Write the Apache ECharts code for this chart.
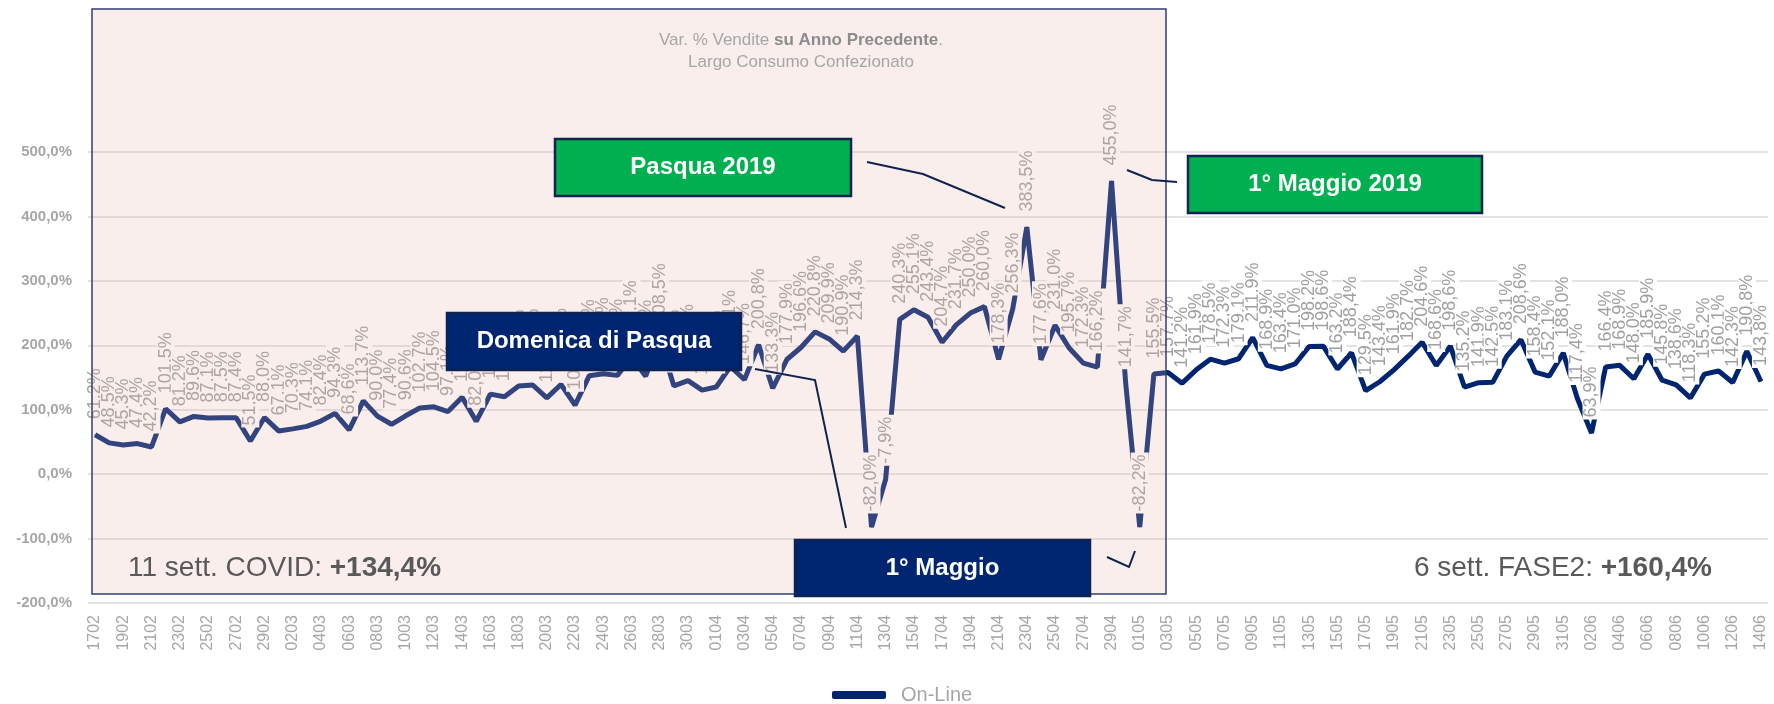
<!DOCTYPE html>
<html><head><meta charset="utf-8">
<script src="https://cdn.jsdelivr.net/npm/echarts@6/dist/echarts.min.js"></script>
<style>html,body{margin:0;padding:0;background:#fff}#c{width:1774px;height:704px}</style>
</head><body><div id="c"></div>
<script>
const categories = [
'1702','1802','1902','2002','2102','2202','2302','2402','2502','2602','2702','2802','2902',
'0103','0203','0303','0403','0503','0603','0703','0803','0903','1003','1103','1203','1303','1403','1503','1603','1703','1803','1903','2003','2103','2203','2303','2403','2503','2603','2703','2803','2903','3003','3103',
'0104','0204','0304','0404','0504','0604','0704','0804','0904','1004','1104','1204','1304','1404','1504','1604','1704','1804','1904','2004','2104','2204','2304','2404','2504','2604','2704','2804','2904','3004',
'0105','0205','0305','0405','0505','0605','0705','0805','0905','1005','1105','1205','1305','1405','1505','1605','1705','1805','1905','2005','2105','2205','2305','2405','2505','2605','2705','2805','2905','3005','3105',
'0106','0206','0306','0406','0506','0606','0706','0806','0906','1006','1106','1206','1306','1406'];

const onlineValues = [
61.2,48.5,45.3,47.4,42.2,101.5,81.2,89.6,87.1,87.5,87.4,51.5,88.0,
67.1,70.3,74.1,82.4,94.3,68.6,113.7,90.0,77.4,90.6,102.7,104.5,97.1,119.4,82.0,124.2,120.2,136.7,138.4,118.3,139.2,107.0,152.6,155.9,153.3,182.1,152.0,208.5,136.9,145.2,130.4,
135.3,167.1,146.7,200.8,133.3,177.9,196.6,220.8,209.9,190.9,214.3,-82.0,-7.9,240.3,255.1,243.4,204.7,231.7,250.0,260.0,178.3,256.3,383.5,177.6,231.0,195.7,172.3,166.2,455.0,141.7,
-82.2,155.5,157.7,141.2,161.9,178.5,172.3,179.1,211.9,168.9,163.4,171.0,198.2,198.6,163.2,188.4,129.5,143.4,161.9,182.7,204.6,168.6,198.6,135.2,141.9,142.5,183.1,208.6,158.4,152.1,188.0,
117.4,63.9,166.4,168.9,148.0,185.9,145.8,138.6,118.3,155.2,160.1,142.3,190.8,143.8];

const seriesName = 'On-Line';
const yMin = -200, yMax = 500, yStep = 100;
const titleLine1 = ['Var. % Vendite ', 'su Anno Precedente', '.'];
const titleLine2 = 'Largo Consumo Confezionato';
const covidNote = ['11 sett. COVID: ', '+134,4%'];
const fase2Note = ['6 sett. FASE2: ', '+160,4%'];
const calloutTexts = ['Pasqua 2019', '1° Maggio 2019', 'Domenica di Pasqua', '1° Maggio'];

const fmt = v => Number(v).toFixed(1).replace('.', ',') + '%';
const FONT = 'Arial, "Liberation Sans", sans-serif';

const chart = echarts.init(document.getElementById('c'));

function box(x, y, w, h, fill, text) {
  return [
    {type: 'rect', z: 60, silent: true, shape: {x: x, y: y, width: w, height: h},
     style: {fill: fill, stroke: '#0E2350', lineWidth: 2.5}},
    {type: 'text', z: 61, silent: true, x: x + w / 2, y: y + h / 2,
     style: {text: text, fill: '#fff', font: 'bold 24px ' + FONT, textAlign: 'center', textVerticalAlign: 'middle'}}
  ];
}
function callout(pts) {
  return {type: 'polyline', z: 60, silent: true, shape: {points: pts},
          style: {stroke: '#0E2350', lineWidth: 2, fill: null}};
}

const graphics = [
  {type: 'rect', z: 50, silent: true, shape: {x: 92, y: 9, width: 1074, height: 585},
   style: {fill: 'rgba(232,178,173,0.22)', stroke: '#2F3F70', lineWidth: 1.5}},
  ...box(555, 139, 296, 57, '#00B050', calloutTexts[0]),
  ...box(1188, 156, 294, 57, '#00B050', calloutTexts[1]),
  ...box(447, 313, 294, 57, '#002570', calloutTexts[2]),
  ...box(795, 540, 295, 56, '#002570', calloutTexts[3]),
  callout([[867, 162], [923, 174], [1005, 208]]),
  callout([[1127, 170], [1152, 180], [1177, 182]]),
  callout([[755, 369], [815, 380], [846, 528]]),
  callout([[1107, 557], [1129, 567], [1135, 551]])
];

const noteRich = {
  n: {fontSize: 28, fontFamily: FONT, color: '#595959', fontWeight: 'normal', lineHeight: 34},
  b: {fontSize: 28, fontFamily: FONT, color: '#595959', fontWeight: 'bold', lineHeight: 34}
};

chart.setOption({
  animation: false,
  backgroundColor: '#fff',
  title: [
    {text: '{n|' + titleLine1[0] + '}{b|' + titleLine1[1] + '}{n|' + titleLine1[2] + '}\n{n|' + titleLine2 + '}',
     left: 801, top: 29, textAlign: 'center', padding: 0, z: 100,
     textStyle: {fontWeight: 'normal', rich: {
       n: {fontSize: 17, fontFamily: FONT, color: '#A6A6A6', fontWeight: 'normal', lineHeight: 22},
       b: {fontSize: 17, fontFamily: FONT, color: '#8C8C8C', fontWeight: 'bold', lineHeight: 22}}}},
    {text: '{n|' + covidNote[0] + '}{b|' + covidNote[1] + '}', left: 128, top: 551, padding: 0, z: 100,
     textStyle: {fontWeight: 'normal', rich: noteRich}},
    {text: '{n|' + fase2Note[0] + '}{b|' + fase2Note[1] + '}', right: 62, top: 551, padding: 0, z: 100,
     textStyle: {fontWeight: 'normal', rich: noteRich}}
  ],
  legend: {
    data: [seriesName], left: 832, top: 685, padding: 0,
    icon: 'roundRect', itemWidth: 54, itemHeight: 8,
    textStyle: {fontSize: 20, fontFamily: FONT, color: '#A6A6A6', padding: [0, 0, 0, 10]}
  },
  grid: {left: 88, right: 6, top: 152, bottom: 101, containLabel: false},
  xAxis: {
    type: 'category', data: categories, boundaryGap: true,
    axisLine: {show: false}, axisTick: {show: false},
    axisLabel: {interval: 1, rotate: 90, margin: 12, fontSize: 16, fontFamily: FONT, color: '#A6A6A6'},
    splitLine: {show: false}
  },
  yAxis: {
    type: 'value', min: yMin, max: yMax, interval: yStep,
    axisLine: {show: false}, axisTick: {show: false},
    axisLabel: {formatter: v => fmt(v), margin: 16, fontSize: 15, fontWeight: 'bold', fontFamily: FONT, color: '#A6A6A6'},
    splitLine: {lineStyle: {color: '#E3E3E3', width: 2}}
  },
  graphic: graphics,
  series: [{
    name: seriesName, type: 'line', data: onlineValues,
    symbol: 'circle', symbolSize: 1, showSymbol: true,
    itemStyle: {color: '#002570'},
    lineStyle: {color: '#002570', width: 5},
    label: {
      show: true, position: 'top', distance: 13, rotate: 90,
      align: 'left', verticalAlign: 'middle',
      formatter: p => fmt(p.value),
      fontSize: 18, fontFamily: FONT, color: '#A0A0A0',
      backgroundColor: '#fff', padding: [0, 2, 0, 2]
    },
    labelLayout: {hideOverlap: false}
  }]
});
</script></body></html>
